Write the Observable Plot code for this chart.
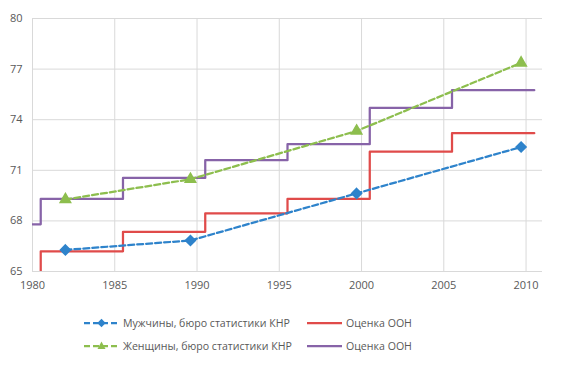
<!DOCTYPE html>
<html>
<head>
<meta charset="utf-8">
<script src="https://cdn.jsdelivr.net/npm/d3@7"></script>
<script src="https://cdn.jsdelivr.net/npm/@observablehq/plot@0.6"></script>
<style>
  body { margin: 0; background: #fff; font-family: "Open Sans", "Noto Sans", sans-serif; }
  #chart { width: 562px; height: 372px; position: relative; }
  .legend { position: absolute; left: 84px; top: 315px; display: grid;
    grid-template-columns: 223px 200px; row-gap: 7px; font-size: 10.6px; color: #595959; }
  .item { display: flex; align-items: center; height: 16px; white-space: nowrap; }
  .item svg { margin-right: 4px; }
</style>
</head>
<body>
<div id="chart"></div>
<script>
// Survey points (China National Bureau of Statistics)
const surveyYears = [1982, 1989.6, 1999.7, 2009.7];
const menNBS = [66.28, 66.84, 69.63, 72.38];
const womenNBS = [69.27, 70.47, 73.33, 77.37];

// UN estimates (step lines), period boundaries
const unYears = [1980, 1980.5, 1985.5, 1990.5, 1995.5, 2000.5, 2005.5, 2010.5];
const unMen = [64.6, 66.2, 67.35, 68.45, 69.3, 72.1, 73.2, 73.2];
const unWomen = [67.8, 69.3, 70.55, 71.6, 72.55, 74.7, 75.75, 75.75];

const xTicks = [1980, 1985, 1990, 1995, 2000, 2005, 2010];
const yTicks = [65, 68, 71, 74, 77, 80];

const seriesNames = ["Мужчины, бюро статистики КНР", "Женщины, бюро статистики КНР", "Оценка ООН", "Оценка ООН"];
const colors = {blue: "#2E83CB", green: "#8DBE4E", red: "#E04B4A", purple: "#8763A8"};

const men = surveyYears.map((x, i) => ({x, y: menNBS[i]}));
const women = surveyYears.map((x, i) => ({x, y: womenNBS[i]}));
const unM = unYears.map((x, i) => ({x, y: unMen[i]}));
const unW = unYears.map((x, i) => ({x, y: unWomen[i]}));

const plot = Plot.plot({
  width: 562,
  height: 300,
  marginLeft: 32,
  marginRight: 20,
  marginTop: 18,
  marginBottom: 29,
  style: {fontFamily: "'Open Sans', 'Noto Sans', sans-serif", fontSize: "11px", color: "#595959", background: "#fff"},
  x: {domain: [1980, 2011], ticks: xTicks, tickFormat: d => String(d), tickSize: 0, tickPadding: 10, label: null},
  y: {domain: [65, 80], ticks: yTicks, tickSize: 0, tickPadding: 10, label: null},
  marks: [
    Plot.gridX(xTicks, {stroke: "#d9d9d9", strokeOpacity: 1, strokeWidth: 1}),
    Plot.gridY(yTicks, {stroke: "#d9d9d9", strokeOpacity: 1, strokeWidth: 1}),
    Plot.axisX({ticks: xTicks, tickFormat: d => String(d), tickSize: 0, tickPadding: 10, fill: "#595959"}),
    Plot.axisY({ticks: yTicks, tickSize: 0, tickPadding: 10, fill: "#595959"}),
    Plot.line(unM, {x: "x", y: "y", curve: "step-after", stroke: colors.red, strokeWidth: 2.25, clip: true}),
    Plot.line(unW, {x: "x", y: "y", curve: "step-after", stroke: colors.purple, strokeWidth: 2.25, clip: true}),
    Plot.line(men, {x: "x", y: "y", stroke: colors.blue, strokeWidth: 2.25, strokeDasharray: "6,3"}),
    Plot.line(women, {x: "x", y: "y", stroke: colors.green, strokeWidth: 2.25, strokeDasharray: "6,3"}),
    Plot.dot(men, {x: "x", y: "y", symbol: "diamond2", r: 4.5, fill: colors.blue, stroke: colors.blue}),
    Plot.dot(women, {x: "x", y: "y", symbol: "triangle2", r: 5, fill: colors.green, stroke: colors.green})
  ]
});
const chart = document.getElementById("chart");
chart.appendChild(plot);

function swatch(color, dashed, marker) {
  let m = "";
  if (marker === "diamond") m = `<path d="M17.5,-4.2L21.7,0L17.5,4.2L13.3,0Z" fill="${color}" transform="translate(0,6)"/>`;
  if (marker === "triangle") m = `<path d="M17.5,-4.5L21.5,3L13.5,3Z" fill="${color}" transform="translate(0,6)"/>`;
  return `<svg width="35" height="12"><line x1="0" x2="35" y1="6" y2="6" stroke="${color}" stroke-width="2.25" ${dashed ? 'stroke-dasharray="6,3"' : ''}/>${m}</svg>`;
}
const legend = document.createElement("div");
legend.className = "legend";
legend.innerHTML = `
  <div class="item">${swatch(colors.blue, true, "diamond")}<span>${seriesNames[0]}</span></div>
  <div class="item">${swatch(colors.red, false)}<span>${seriesNames[2]}</span></div>
  <div class="item">${swatch(colors.green, true, "triangle")}<span>${seriesNames[1]}</span></div>
  <div class="item">${swatch(colors.purple, false)}<span>${seriesNames[3]}</span></div>`;
chart.appendChild(legend);
</script>
</body>
</html>
